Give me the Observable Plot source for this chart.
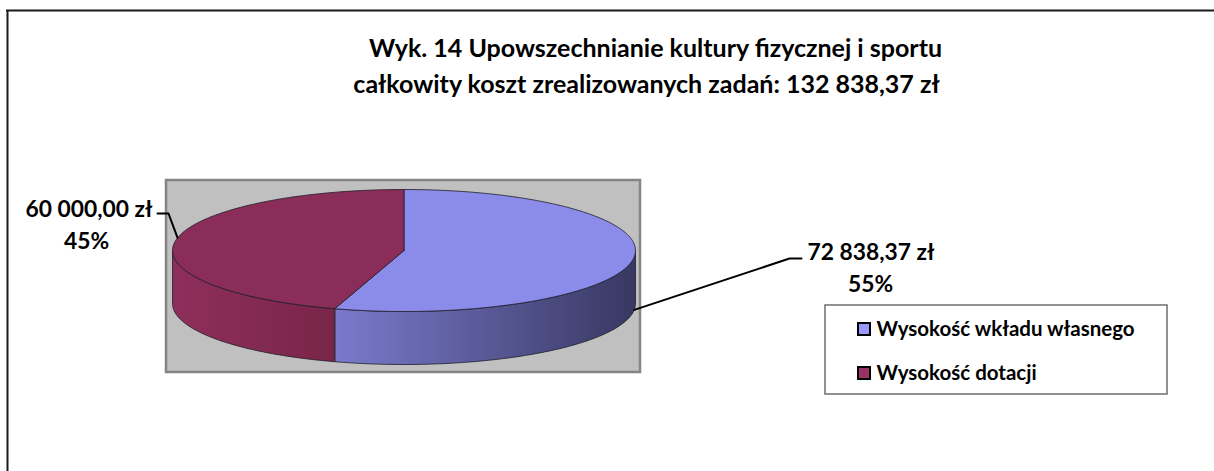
<!DOCTYPE html>
<html>
<head>
<meta charset="utf-8">
<script src="https://cdn.jsdelivr.net/npm/d3@7"></script>
<script src="https://cdn.jsdelivr.net/npm/@observablehq/plot@0.6"></script>
<style>
  html, body { margin: 0; padding: 0; background: #fff; }
  svg { display: block; }
</style>
</head>
<body>
<div id="chart"></div>
<script>
// ---- data ----
const titleLines = [
  "Wyk. 14 Upowszechnianie kultury fizycznej i sportu",
  "całkowity koszt zrealizowanych zadań: 132 838,37 zł"
];
const categories = ["Wysokość wkładu własnego", "Wysokość dotacji"];
const values = [72838.37, 60000.00];
const legendColors = ["#9999FF", "#993366"];

// ---- layout (pixel space) ----
const W = 1214, H = 471;
const pie = {cx: 403.5, cy: 250, rx: 231.5, ry: 61, depth: 53};
const topColors = ["#8B8BEA", "#8B2D59"];
const sideStops = [["#7A7ACD", "#383862"], ["#8E2F5B", "#792549"]];
const labelLayout = [
  {vx: 807, vy: 252, vAnchor: "start", px: 870, py: 284,
   leaderAngle: 96, leaderDrop: 1, elbow: [789, 258], end: [801, 258]},
  {vx: 152, vy: 209, vAnchor: "end", px: 86, py: 241,
   leaderAngle: 282, leaderDrop: 0, elbow: [168, 213], end: [157, 213]}
];
const fontTitle = 25, fontLabel = 22.8, fontLegend = 20.5;

const plPL = d3.formatLocale({decimal: ",", thousands: " ", grouping: [3], currency: ["", " zł"]});
const fmtMoney = plPL.format("$,.2f");
const fmtPct = d3.format(".0%");
const total = d3.sum(values);

// angles (degrees clockwise from 12 o'clock)
const arcs = d3.pie().sort(null)(values).map((a, i) => ({
  i, a0: a.startAngle * 180 / Math.PI, a1: a.endAngle * 180 / Math.PI
}));
const pt = (deg, drop = 0) => {
  const r = deg * Math.PI / 180;
  return {x: pie.cx + pie.rx * Math.sin(r), y: pie.cy - pie.ry * Math.cos(r) + drop};
};
const arcPts = (from, to, drop) => {
  const n = Math.max(2, Math.ceil(Math.abs(to - from)));
  return d3.range(n + 1).map(k => pt(from + (to - from) * k / n, drop));
};

const topPolys = arcs.map(a => [{x: pie.cx, y: pie.cy}, ...arcPts(a.a0, a.a1, 0), {x: pie.cx, y: pie.cy}]);
const sidePolys = arcs.map(a => {
  const s = Math.max(a.a0, 90), e = Math.min(a.a1, 270);
  if (e <= s) return null;
  const top = arcPts(s, e, 0), bot = arcPts(e, s, pie.depth);
  return {pts: [...top, ...bot, top[0]], x0: d3.min(top, d => d.x), x1: d3.max(top, d => d.x)};
});

const defsMark = () => {
  const ns = "http://www.w3.org/2000/svg";
  const defs = document.createElementNS(ns, "defs");
  sidePolys.forEach((sp, i) => {
    if (!sp) return;
    const g = document.createElementNS(ns, "linearGradient");
    g.setAttribute("id", "side" + i);
    g.setAttribute("gradientUnits", "userSpaceOnUse");
    g.setAttribute("x1", sp.x0); g.setAttribute("x2", sp.x1);
    g.setAttribute("y1", 0); g.setAttribute("y2", 0);
    sideStops[i].forEach((c, k) => {
      const s = document.createElementNS(ns, "stop");
      s.setAttribute("offset", k === 0 ? "0" : "1");
      s.setAttribute("stop-color", c);
      g.appendChild(s);
    });
    defs.appendChild(g);
  });
  return defs;
};

const marks = [defsMark];
marks.push(Plot.ruleY([10], {x1: 6, x2: W, stroke: "#1a1a1a", strokeWidth: 2}));
marks.push(Plot.ruleX([7], {y1: 10, y2: H, stroke: "#1a1a1a", strokeWidth: 2}));
marks.push(Plot.rect([0], {x1: 166, x2: 640, y1: 180, y2: 372, fill: "#C0C0C0", stroke: "#858585", strokeWidth: 2.5}));
sidePolys.forEach((sp, i) => {
  if (!sp) return;
  marks.push(Plot.line(sp.pts, {x: "x", y: "y", fill: `url(#side${i})`, stroke: "#1e1e2a", strokeWidth: 0.8, curve: "linear"}));
});
topPolys.forEach((p, i) => {
  marks.push(Plot.line(p, {x: "x", y: "y", fill: topColors[i], stroke: "#1e1e2a", strokeWidth: 0.8, curve: "linear"}));
});
labelLayout.forEach((L) => {
  const a = pt(L.leaderAngle, L.leaderDrop ? pie.depth : 0);
  const pts = [a, {x: L.elbow[0], y: L.elbow[1]}, {x: L.end[0], y: L.end[1]}];
  marks.push(Plot.line(pts, {x: "x", y: "y", stroke: "#000", strokeWidth: 2}));
});
const labelRows = values.map((v, i) => ({...labelLayout[i], money: fmtMoney(v), pct: fmtPct(v / total)}));
marks.push(Plot.text(labelRows.filter(d => d.vAnchor === "start"), {x: "vx", y: "vy", text: "money", textAnchor: "start", fontSize: fontLabel, fontWeight: "bold", fill: "#000"}));
marks.push(Plot.text(labelRows.filter(d => d.vAnchor === "end"), {x: "vx", y: "vy", text: "money", textAnchor: "end", fontSize: fontLabel, fontWeight: "bold", fill: "#000"}));
marks.push(Plot.text(labelRows, {x: "px", y: "py", text: "pct", fontSize: fontLabel, fontWeight: "bold", fill: "#000"}));
marks.push(Plot.text(titleLines, {x: (d, i) => 655 - i * 9, y: (d, i) => 48 + i * 36, text: d => d, fontSize: fontTitle, fontWeight: "bold", fill: "#000"}));
marks.push(Plot.rect([0], {x1: 825, x2: 1167, y1: 305, y2: 394, fill: "#fff", stroke: "#6e6e6e", strokeWidth: 1.5}));
marks.push(Plot.rect(categories, {x1: 858, x2: 870, y1: (d, i) => 323 + i * 44, y2: (d, i) => 335 + i * 44, fill: (d, i) => legendColors[i], stroke: "#000", strokeWidth: 2}));
marks.push(Plot.text(categories, {x: 876, y: (d, i) => 329 + i * 44, text: d => d, textAnchor: "start", fontSize: fontLegend, fontWeight: "bold", fill: "#000"}));

const chart = Plot.plot({
  width: W, height: H, margin: 0,
  x: {domain: [0, W], range: [0, W], axis: null},
  y: {domain: [0, H], range: [0, H], axis: null},
  style: {fontFamily: "Lato, 'Open Sans', sans-serif", background: "#fff", overflow: "visible"},
  marks
});
document.getElementById("chart").appendChild(chart);
</script>
</body>
</html>
